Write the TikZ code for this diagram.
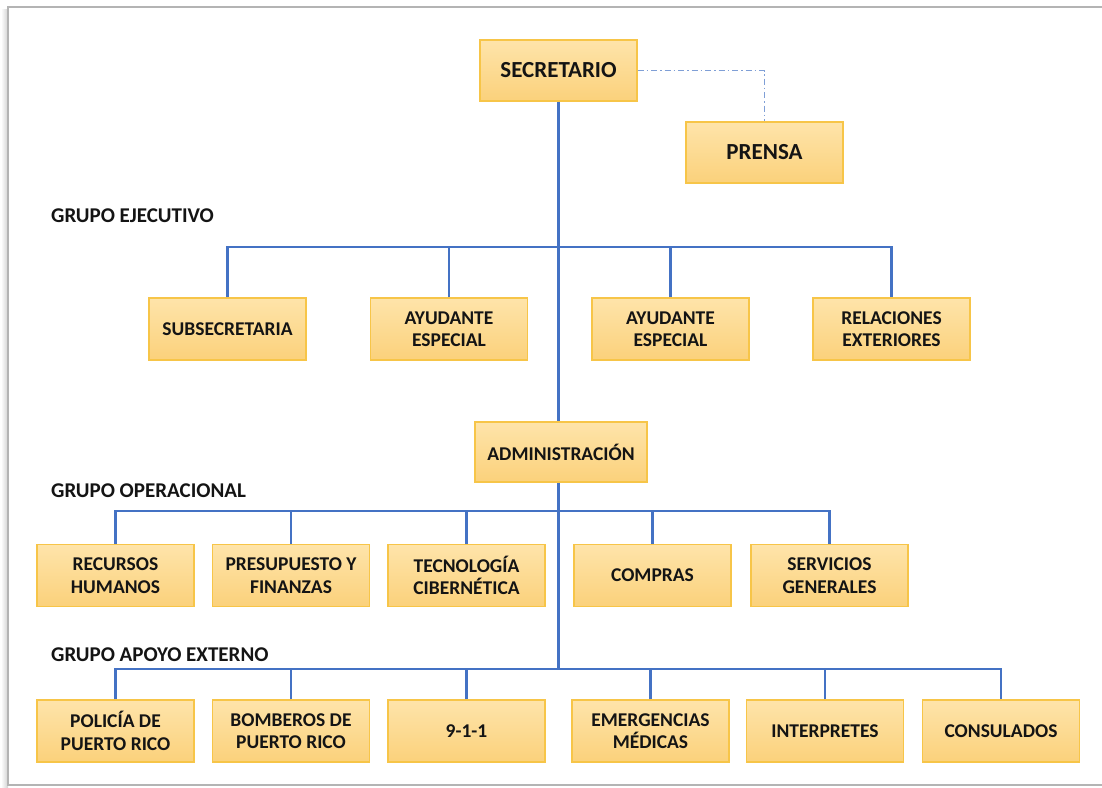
\documentclass[tikz,border=0pt]{standalone}
\usepackage{fontspec}
\setmainfont{Carlito}
\usetikzlibrary{calc}
\definecolor{boxtop}{HTML}{FEE4AA}
\definecolor{boxbot}{HTML}{FBD17B}
\definecolor{boxline}{HTML}{F7C548}
\definecolor{link}{HTML}{4472C4}
\definecolor{softlink}{HTML}{7F9FD6}
\definecolor{ink}{HTML}{141414}
\definecolor{frame}{HTML}{B4B4B4}
\tikzset{
  unit/.style={draw=boxline, line width=1.1pt, top color=boxtop, bottom color=boxbot,
    minimum width=157pt, minimum height=62pt, inner sep=0pt, align=center,
    text=ink, font=\bfseries\fontsize{19.5}{22.5}\selectfont},
  headunit/.style={unit, minimum height=61pt, font=\bfseries\fontsize{23}{27}\selectfont},
  grouplabel/.style={anchor=base west, inner sep=0pt, text=ink, font=\bfseries\fontsize{21}{24}\selectfont},
  tie/.style={draw=link, line width=2.2pt},
  advisory/.style={draw=softlink, line width=1.4pt, dash pattern=on 6pt off 3pt on 1.5pt off 3pt}
}
\begin{document}
\begin{tikzpicture}[x=1pt, y=-1pt]
  \useasboundingbox (0,0) rectangle (1102,787);
  % page frame with a soft shadow on the left
  \shade[left color=white, right color=black!18] (1,9) rectangle (8,787);
  \fill[white] (8,7) rectangle (1102,785);
  \draw[frame, line width=1.6pt] (1103,7) -- (8,7) -- (8,785) -- (1103,785);

  % top level
  \node[headunit] (sec) at (558.5,70.5) {SECRETARIO};
  \node[headunit] (prensa) at (764.5,152.5) {PRENSA};

  % executive group
  \node[grouplabel] (gex) at (51,222) {GRUPO EJECUTIVO};
  \node[unit] (sub) at (227.5,329) {SUBSECRETARIA};
  \node[unit] (ay1) at (449,329) {AYUDANTE\\ESPECIAL};
  \node[unit] (ay2) at (670.5,329) {AYUDANTE\\ESPECIAL};
  \node[unit] (rel) at (891.5,329) {RELACIONES\\EXTERIORES};

  % administration
  \node[unit, minimum width=172pt, minimum height=60pt] (adm) at (561,452) {ADMINISTRACIÓN};

  % operational group
  \node[grouplabel] (gop) at (51,497) {GRUPO OPERACIONAL};
  \node[unit] (rh) at (115.5,575.5) {RECURSOS\\HUMANOS};
  \node[unit] (pf) at (291,575.5) {PRESUPUESTO Y\\FINANZAS};
  \node[unit] (tc) at (466.5,575.5) {TECNOLOGÍA\\CIBERNÉTICA};
  \node[unit] (co) at (652.5,575.5) {COMPRAS};
  \node[unit] (sg) at (829.5,575.5) {SERVICIOS\\GENERALES};

  % external support group
  \node[grouplabel] (gap) at (51,661) {GRUPO APOYO EXTERNO};
  \node[unit] (pol) at (115.5,731) {POLICÍA DE\\PUERTO RICO};
  \node[unit] (bom) at (291,731) {BOMBEROS DE\\PUERTO RICO};
  \node[unit] (nue) at (466.5,731) {9-1-1};
  \node[unit] (eme) at (650.5,731) {EMERGENCIAS\\MÉDICAS};
  \node[unit] (int) at (825,731) {INTERPRETES};
  \node[unit] (con) at (1001,731) {CONSULADOS};

  % bus levels
  \coordinate (bus1) at (0,247);
  \coordinate (bus2) at (0,511);
  \coordinate (bus3) at (0,669);

  % advisory link
  \draw[advisory] (sec.east) -| (prensa.north);

  % main spine
  \draw[tie] (sec.south) -- (sec.south |- adm.north);
  \draw[tie] (sec.south |- adm.south) -- (sec.south |- bus3);

  % executive bus
  \draw[tie] (sub.north) -- (sub.north |- bus1) -- (rel.north |- bus1) -- (rel.north);
  \draw[tie] (ay1.north) -- (ay1.north |- bus1);
  \draw[tie] (ay2.north) -- (ay2.north |- bus1);

  % operational bus
  \draw[tie] (rh.north) -- (rh.north |- bus2) -- (sg.north |- bus2) -- (sg.north);
  \draw[tie] (pf.north) -- (pf.north |- bus2);
  \draw[tie] (tc.north) -- (tc.north |- bus2);
  \draw[tie] (co.north) -- (co.north |- bus2);

  % external support bus
  \draw[tie] (pol.north) -- (pol.north |- bus3) -- (con.north |- bus3) -- (con.north);
  \draw[tie] (bom.north) -- (bom.north |- bus3);
  \draw[tie] (nue.north) -- (nue.north |- bus3);
  \draw[tie] (eme.north) -- (eme.north |- bus3);
  \draw[tie] (int.north) -- (int.north |- bus3);
\end{tikzpicture}
\end{document}
